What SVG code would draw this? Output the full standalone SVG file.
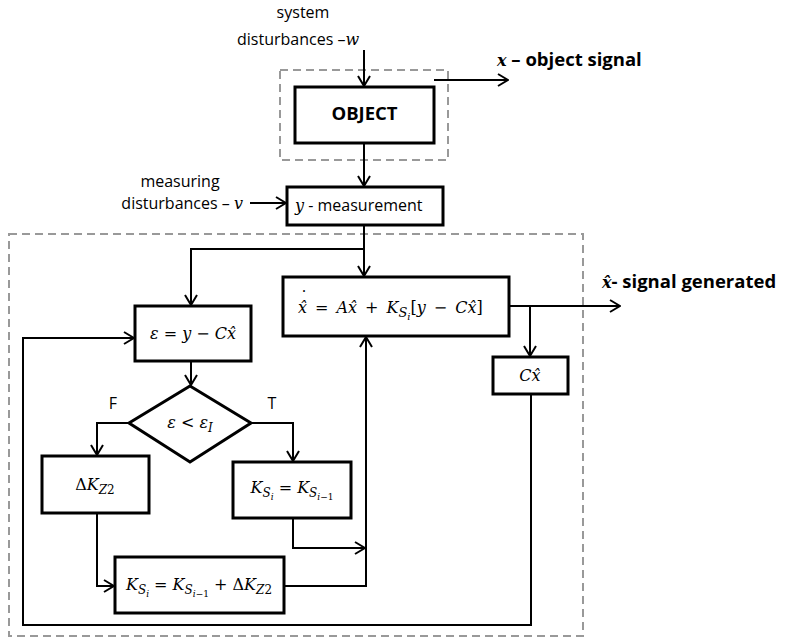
<svg xmlns="http://www.w3.org/2000/svg" width="785" height="638" viewBox="0 0 785 638">
  <style>
    .box { fill: #fff; stroke: #000; stroke-width: 3; }
    .frame { fill: none; stroke: #999; stroke-width: 2; stroke-dasharray: 8 5; }
    .wire { fill: none; stroke: #000; stroke-width: 2; }
    .arr { marker-end: url(#head); }
    .lbl { font-family: "Open Sans", "Liberation Sans", sans-serif; font-size: 16px; fill: #000; }
    .big { font-family: "Open Sans", "Liberation Sans", sans-serif; font-size: 18.5px; font-weight: bold; fill: #000; }
    .math { font-family: "DejaVu Serif", "Liberation Serif", serif; font-size: 16px; fill: #000; }
    .v { font-style: italic; }
  </style>
  <defs>
    <marker id="head" markerUnits="userSpaceOnUse" viewBox="0 0 12 14" markerWidth="12" markerHeight="14" refX="11" refY="7" orient="auto">
      <path d="M1,1 L11,7 L1,13" fill="none" stroke="#000" stroke-width="2"/>
    </marker>
  </defs>

  <!-- dashed enclosures -->
  <rect class="frame" x="280" y="70" width="168" height="90"/>
  <rect class="frame" x="9" y="234" width="574" height="402"/>

  <!-- connectors -->
  <g id="connectors">
    <path class="wire arr" d="M364,50 V86"/>
    <path class="wire arr" d="M434,80 H508"/>
    <path class="wire arr" d="M364,143 V186"/>
    <path class="wire arr" d="M250,203 H286"/>
    <path class="wire arr" d="M364,225 V276"/>
    <path class="wire arr" d="M364,249 H191 V305"/>
    <path class="wire arr" d="M509,306 H620"/>
    <path class="wire arr" d="M530,306 V356"/>
    <path class="wire arr" d="M531,395 V625 H23 V338 H134"/>
    <path class="wire arr" d="M191,361 V385"/>
    <path class="wire arr" d="M129,423 H97 V455"/>
    <path class="wire arr" d="M251,423 H293 V461"/>
    <path class="wire arr" d="M293,518 V548 H365"/>
    <path class="wire arr" d="M97,513 V586 H114"/>
    <path class="wire arr" d="M284,586 H366 V337"/>
  </g>

  <!-- input / output labels -->
  <text class="lbl" x="303" y="18" text-anchor="middle">system</text>
  <text class="lbl" x="237" y="45">disturbances –<tspan class="math v" font-size="17">w</tspan></text>
  <text class="big" x="497" y="66"><tspan class="math v" font-size="19">x</tspan> – object signal</text>
  <text class="lbl" x="180" y="187" text-anchor="middle">measuring</text>
  <text class="lbl" x="243" y="209" text-anchor="end">disturbances – <tspan class="math v" font-size="17">v</tspan></text>
  <text class="big" x="602" y="288"><tspan class="math v" font-size="19">x̂</tspan>- signal generated</text>
  <text class="lbl" x="113" y="409" text-anchor="middle">F</text>
  <text class="lbl" x="272" y="409" text-anchor="middle">T</text>

  <g id="object">
    <rect class="box" x="295" y="87" width="139" height="56"/>
    <text class="big" x="364.5" y="120" text-anchor="middle" font-size="17">OBJECT</text>
  </g>

  <g id="measurement">
    <rect class="box" x="287" y="187" width="156" height="38"/>
    <text class="lbl" x="295" y="211" font-size="16.5"><tspan class="math v" font-size="19">y</tspan> - measurement</text>
  </g>

  <g id="estimator">
    <rect class="box" x="283" y="277" width="226" height="59"/>
    <text class="math" x="300" y="303" font-size="17.5"><tspan>˙</tspan><tspan x="298" dy="10" class="v">x̂</tspan>&#8194;=&#8194;<tspan class="v">Ax̂</tspan>&#8194;+&#8194;<tspan class="v">K</tspan><tspan class="v" font-size="13" dy="4">S</tspan><tspan class="v" font-size="10" dy="3">i</tspan><tspan dy="-7">[</tspan><tspan class="v">y</tspan>&#8194;−&#8194;<tspan class="v">Cx̂</tspan>]</text>
  </g>

  <g id="output">
    <rect class="box" x="493" y="357" width="75" height="37"/>
    <text class="math v" x="530" y="381" text-anchor="middle">Cx̂</text>
  </g>

  <g id="error">
    <rect class="box" x="135" y="306" width="116" height="55"/>
    <text class="math" x="193" y="339" text-anchor="middle"><tspan class="v">ε</tspan> = <tspan class="v">y</tspan> − <tspan class="v">Cx̂</tspan></text>
  </g>

  <g id="decision">
    <polygon class="box" points="190,386 251,423 190,462 129,423"/>
    <text class="math" x="190" y="428" text-anchor="middle"><tspan class="v">ε</tspan> &lt; <tspan class="v">ε</tspan><tspan class="v" font-size="12" dy="4">I</tspan></text>
  </g>

  <g id="delta">
    <rect class="box" x="42" y="456" width="107" height="57"/>
    <text class="math" x="95" y="490" text-anchor="middle">Δ<tspan class="v">K</tspan><tspan class="v" font-size="12" dy="4">Z</tspan><tspan font-size="12">2</tspan></text>
  </g>

  <g id="keep">
    <rect class="box" x="233" y="462" width="118" height="56"/>
    <text class="math" x="292" y="493" text-anchor="middle"><tspan class="v">K</tspan><tspan class="v" font-size="12" dy="4">S</tspan><tspan class="v" font-size="9" dy="3">i</tspan><tspan dy="-7"> = </tspan><tspan class="v">K</tspan><tspan class="v" font-size="12" dy="4">S</tspan><tspan class="v" font-size="9" dy="3">i</tspan><tspan font-size="9">−1</tspan></text>
  </g>

  <g id="update">
    <rect class="box" x="115" y="557" width="169" height="56"/>
    <text class="math" x="199" y="590" text-anchor="middle"><tspan class="v">K</tspan><tspan class="v" font-size="12" dy="4">S</tspan><tspan class="v" font-size="9" dy="3">i</tspan><tspan dy="-7"> = </tspan><tspan class="v">K</tspan><tspan class="v" font-size="12" dy="4">S</tspan><tspan class="v" font-size="9" dy="3">i</tspan><tspan font-size="9">−1</tspan><tspan dy="-7"> + Δ</tspan><tspan class="v">K</tspan><tspan class="v" font-size="12" dy="4">Z</tspan><tspan font-size="12">2</tspan></text>
  </g>
</svg>
